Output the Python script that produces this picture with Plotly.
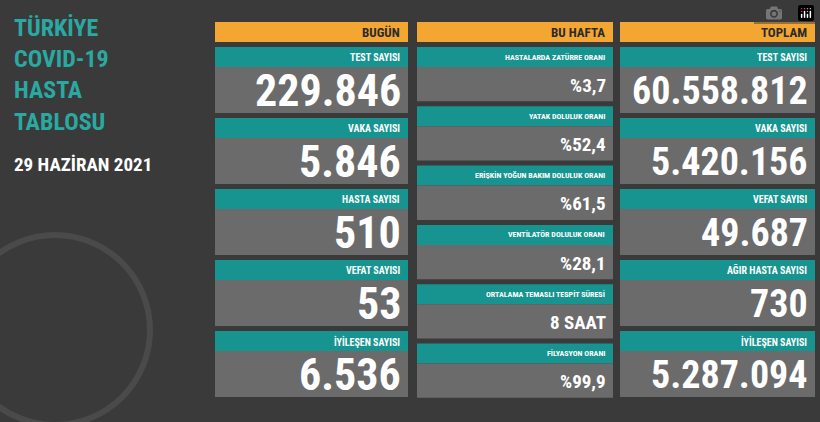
import plotly.graph_objects as go

headers = ["BUGÜN", "BU HAFTA", "TOPLAM"]
bugun_labels = ["TEST SAYISI", "VAKA SAYISI", "HASTA SAYISI", "VEFAT SAYISI", "İYİLEŞEN SAYISI"]
bugun_values = ["229.846", "5.846", "510", "53", "6.536"]
hafta_labels = ["HASTALARDA ZATÜRRE ORANI", "YATAK DOLULUK ORANI", "ERİŞKİN YOĞUN BAKIM DOLULUK ORANI",
                "VENTİLATÖR DOLULUK ORANI", "ORTALAMA TEMASLI TESPİT SÜRESİ", "FİLYASYON ORANI"]
hafta_values = ["%3,7", "%52,4", "%61,5", "%28,1", "8 SAAT", "%99,9"]
toplam_labels = ["TEST SAYISI", "VAKA SAYISI", "VEFAT SAYISI", "AĞIR HASTA SAYISI", "İYİLEŞEN SAYISI"]
toplam_values = ["60.558.812", "5.420.156", "49.687", "730", "5.287.094"]

BG = "#3a3a3b"
ORANGE = "#f3a632"
TEAL = "#17948f"
GREY = "#6b6b6b"
FONT = "Liberation Sans Narrow, Roboto Condensed, Roboto"

cols = [(215, 408), (417, 613), (620, 815)]
shapes, ann = [], []

def rect(x0, x1, y0, y1, c):
    shapes.append(dict(type="rect", x0=x0, x1=x1, y0=y0, y1=y1, fillcolor=c, line_width=0, layer="below"))

for (x0, x1), h in zip(cols, headers):
    rect(x0, x1, 22, 42, ORANGE)
    ann.append(dict(x=x1 - 6, y=32, text="<b>%s</b>" % h, xanchor="right", font=dict(size=13, color="#2b2b2b")))

def column(ci, labels, values, top, step, strip, lsize, vsize):
    x0, x1 = cols[ci]
    for i, (lab, val) in enumerate(zip(labels, values)):
        y = top + i * step
        rect(x0, x1, y, y + strip, TEAL)
        rect(x0, x1, y + strip, y + step - 5, GREY)
        ann.append(dict(x=x1 - 6, y=y + strip / 2, text="<b>%s</b>" % lab, xanchor="right",
                        font=dict(size=lsize, color="white")))
        ann.append(dict(x=x1 - 5, y=(y + strip + y + step - 5) / 2 + 1, text="<b>%s</b>" % val,
                        xanchor="right", font=dict(size=vsize, color="white")))

column(0, bugun_labels, bugun_values, 47, 71, 20, 10, 44)
column(2, toplam_labels, toplam_values, 47, 71, 20, 10, 38)
column(1, hafta_labels, hafta_values, 47, 59.3, 20, 8, 19)

ann.append(dict(x=12, y=75, text="<b>TÜRKİYE<br>COVID-19<br>HASTA<br>TABLOSU</b>", xanchor="left", align="left",
                font=dict(size=24, color="#2aa9a2")))
ann.append(dict(x=12, y=164, text="<b>29 HAZİRAN 2021</b>", xanchor="left", font=dict(size=19, color="white")))
shapes.append(dict(type="circle", x0=-40, x1=150, y0=235, y1=425, line=dict(color="#4a4a4b", width=6), layer="below"))

fig = go.Figure()
fig.update_layout(width=820, height=422, margin=dict(l=0, r=0, t=0, b=0), paper_bgcolor=BG, plot_bgcolor=BG,
                  xaxis=dict(range=[0, 820], visible=False, fixedrange=True),
                  yaxis=dict(range=[422, 0], visible=False, fixedrange=True),
                  shapes=shapes, annotations=[dict(a, showarrow=False, yanchor="middle") for a in ann],
                  font=dict(family=FONT), showlegend=False)
fig.write_html("out.html", post_script="document.body.style.margin='0';document.body.style.background='%s';" % BG)
